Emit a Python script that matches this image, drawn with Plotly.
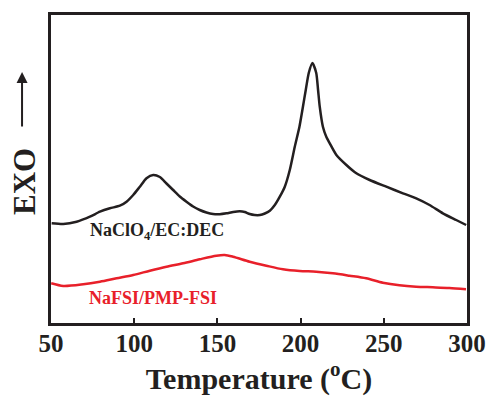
import plotly.graph_objects as go

# Temperature (°C) and heat flow (arbitrary units, EXO up)
t_clo4 = [50.4, 57.4, 65.4, 73.4, 79.4, 85.4, 91.4, 95.4, 99.4, 103.4, 107.4, 111.4,
          115.4, 119.4, 123.4, 127.4, 131.4, 135.4, 139.4, 143.4, 147.4, 151.4, 155.5,
          159.5, 163.4, 166.4, 169.4, 172.4, 175.5, 178.5, 181.5, 184.5, 187.5, 190.5,
          193.5, 196.5, 199.3, 201.4, 203.1, 204.9, 207.1, 209.4, 210.5, 211.5, 213.4,
          215.5, 217.5, 221.5, 227.5, 233.5, 241.5, 251.5, 261.5, 269.5, 277.5, 285.5,
          293.5, 299.5]
hf_clo4 = [99.7, 99.0, 101.3, 106.3, 111.3, 114.7, 117.3, 121.3, 128.0, 136.3, 144.7, 148.0,
           146.0, 139.5, 133.0, 126.5, 121.3, 116.5, 113.0, 110.5, 109.0, 108.8, 109.7,
           111.0, 111.7, 111.0, 109.0, 108.0, 108.0, 109.5, 112.3, 118.0, 126.3, 136.3,
           153.0, 176.3, 196.3, 216.3, 233.0, 250.0, 260.0, 250.0, 233.0, 216.3, 196.3,
           186.0, 179.7, 168.0, 158.0, 149.7, 143.0, 136.3, 129.7, 124.7, 118.0, 109.7,
           103.0, 98.0]

t_fsi = [50.1, 57.4, 69.4, 79.4, 89.4, 99.4, 109.4, 119.4, 129.4, 139.4, 149.4, 154.4,
         159.4, 169.4, 179.4, 189.4, 199.4, 209.4, 219.4, 229.4, 239.4, 249.4, 259.4,
         269.4, 279.4, 289.4, 299.4]
hf_fsi = [39.7, 37.0, 38.7, 41.3, 44.7, 48.0, 52.3, 56.3, 59.7, 63.7, 67.3, 68.0,
          66.3, 61.3, 57.3, 53.7, 52.0, 51.3, 49.7, 47.3, 44.7, 40.3, 37.7,
          36.3, 35.7, 35.0, 33.7]

x_ticks = [50, 100, 150, 200, 250, 300]
label_clo4 = "NaClO<sub>4</sub>/EC:DEC"
label_fsi = "NaFSI/PMP-FSI"

FONT = "Liberation Serif"
BLACK = "#231f20"
RED = "#e8202a"

fig = go.Figure()
fig.add_trace(go.Scatter(x=t_clo4, y=hf_clo4, mode="lines",
                         line=dict(color=BLACK, width=2.5, shape="spline", smoothing=0.6),
                         showlegend=False))
fig.add_trace(go.Scatter(x=t_fsi, y=hf_fsi, mode="lines",
                         line=dict(color=RED, width=2.5, shape="spline", smoothing=0.8),
                         showlegend=False))

fig.add_annotation(x=72.2, y=92, xref="x", yref="y", text=label_clo4, showarrow=False,
                   xanchor="left", yanchor="middle",
                   font=dict(family=FONT, size=18, color=BLACK, weight="bold"))
fig.add_annotation(x=71.6, y=25, xref="x", yref="y", text=label_fsi, showarrow=False,
                   xanchor="left", yanchor="middle",
                   font=dict(family=FONT, size=18, color=RED, weight="bold"))

# EXO label with arrow
fig.add_annotation(x=-0.065, y=(323 - 181) / 308, xref="paper", yref="paper", text="EXO",
                   showarrow=False, textangle=-90, xanchor="center", yanchor="middle",
                   font=dict(family=FONT, size=31, color=BLACK, weight="bold"))
fig.add_annotation(x=-0.0696, y=(323 - 72) / 308, xref="paper", yref="paper", text="",
                   showarrow=True, ax=0, ay=56, axref="pixel", ayref="pixel",
                   arrowhead=2, arrowsize=1.1, arrowwidth=2, arrowcolor=BLACK)

fig.update_layout(
    width=488, height=397,
    margin=dict(l=51, r=21, t=15, b=74, autoexpand=False),
    paper_bgcolor="white", plot_bgcolor="white",
    font=dict(family=FONT, color=BLACK),
    xaxis=dict(range=[50, 300], tickvals=x_ticks, ticktext=[str(v) for v in x_ticks],
               automargin=False, ticklabelstandoff=-4,
               showline=True, linecolor=BLACK, linewidth=3, mirror=True,
               ticks="inside", ticklen=5, tickwidth=2, tickcolor=BLACK,
               showgrid=False, zeroline=False,
               tickfont=dict(family=FONT, size=25, color=BLACK, weight="bold"),
               title=dict(text="Temperature (<sup>o</sup>C)", standoff=12,
                          font=dict(family=FONT, size=30, color=BLACK, weight="bold"))),
    yaxis=dict(range=[0, 308], showline=True, linecolor=BLACK, linewidth=3, mirror=True,
               automargin=False,
               showticklabels=False, ticks="", showgrid=False, zeroline=False),
)

fig.write_html("out.html")
